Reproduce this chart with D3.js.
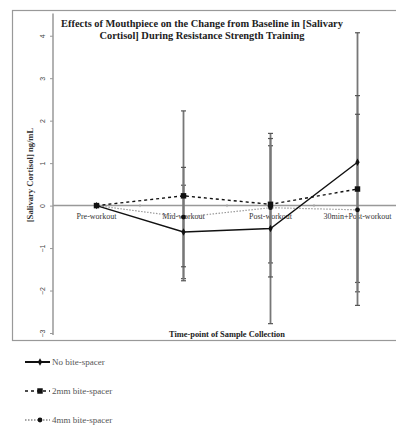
<!DOCTYPE html>
<html>
<head>
<meta charset="utf-8">
<script src="https://cdn.jsdelivr.net/npm/d3@7"></script>
<style>
  html, body { margin: 0; padding: 0; background: #fff; }
  svg { display: block; font-family: 'Liberation Serif', 'DejaVu Serif', serif; }
</style>
</head>
<body>
<svg id="chart" width="396" height="428"></svg>
<script>
const categories = ['Pre-workout', 'Mid-workout', 'Post-workout', '30min+Post-workout']
const yTicks = [-3, -2, -1, 0, 1, 2, 3, 4]

const noSpacer = [0, -0.62, -0.54, 1.02]
const noSpacerErr = [0, 1.1, 2.24, 3.05]
const spacer2mm = [0, 0.23, 0.03, 0.39]
const spacer2mmErr = [0, 2.0, 1.38, 2.2]
const spacer4mm = [0, -0.27, -0.05, -0.1]
const spacer4mmErr = [0, 1.17, 1.63, 2.25]

const seriesNames = ['No bite-spacer', '2mm bite-spacer', '4mm bite-spacer']

const series = [
  { name: seriesNames[0], values: noSpacer, err: noSpacerErr, dash: null, color: '#111', width: 1.4, marker: 'diamond', size: 16 },
  { name: seriesNames[1], values: spacer2mm, err: spacer2mmErr, dash: '3,3', color: '#111', width: 1.4, marker: 'square', size: 30 },
  { name: seriesNames[2], values: spacer4mm, err: spacer4mmErr, dash: '1.5,1.5', color: '#999', width: 1.2, marker: 'circle', size: 18 },
]

const svg = d3.select('#chart')

const plotLeft = 53
const plotTop = 14.5
const plotBottom = 333

const x = d3.scalePoint().domain(categories).range([plotLeft, 401]).padding(0.5)
const y = d3.scaleLinear().domain([-3, 4.5]).range([plotBottom, plotTop])

// chart frame
svg.append('rect')
  .attr('x', 12.5).attr('y', 10.5)
  .attr('width', 400).attr('height', 330)
  .attr('fill', 'none').attr('stroke', '#999').attr('stroke-width', 1.2)

// y axis
const yAxis = svg.append('g')
  .attr('transform', `translate(${plotLeft},0)`)
  .call(d3.axisLeft(y).tickValues(yTicks).tickSize(3).tickFormat(d3.format('d')))
yAxis.select('.domain').attr('stroke', '#999').attr('stroke-width', 1.5)
  .attr('d', `M0,${plotTop - 1}V${plotBottom + 2}`)
yAxis.selectAll('.tick line').attr('stroke', '#999')
yAxis.selectAll('.tick text')
  .attr('font-size', 7).attr('fill', '#444')
  .attr('x', 0).attr('dy', 0)
  .attr('text-anchor', 'middle')
  .attr('transform', 'translate(-8,0) rotate(-90)')

// zero line with category separators
const zeroY = y(0)
svg.append('line')
  .attr('x1', plotLeft).attr('x2', 396)
  .attr('y1', zeroY).attr('y2', zeroY)
  .attr('stroke', '#999').attr('stroke-width', 1.5)
const step = x.step()
categories.slice(1).forEach((c) => {
  svg.append('line')
    .attr('x1', x(c) - step / 2).attr('x2', x(c) - step / 2)
    .attr('y1', zeroY - 1.5).attr('y2', zeroY + 1.5)
    .attr('stroke', '#aaa')
})

// category labels
svg.append('g').selectAll('text')
  .data(categories).enter().append('text')
  .attr('x', (d) => x(d)).attr('y', zeroY + 13)
  .attr('text-anchor', 'middle')
  .attr('font-size', 8).attr('fill', '#333')
  .text((d) => d)

// error bars
series.forEach((s) => {
  const g = svg.append('g')
  s.values.forEach((v, i) => {
    if (!s.err[i]) return
    const cx = x(categories[i])
    g.append('line')
      .attr('x1', cx).attr('x2', cx)
      .attr('y1', y(v + s.err[i])).attr('y2', y(v - s.err[i]))
      .attr('stroke', '#777').attr('stroke-width', 1.8)
    ;[v + s.err[i], v - s.err[i]].forEach((e) => {
      g.append('line')
        .attr('x1', cx - 2.5).attr('x2', cx + 2.5)
        .attr('y1', y(e)).attr('y2', y(e))
        .attr('stroke', '#555').attr('stroke-width', 1.2)
    })
  })
})

const symbolType = { diamond: d3.symbolDiamond, square: d3.symbolSquare, circle: d3.symbolCircle }

// series lines and markers (4mm first so others sit on top)
const line = d3.line().x((d, i) => x(categories[i])).y((d) => y(d))
series.slice().reverse().forEach((s) => {
  svg.append('path')
    .datum(s.values)
    .attr('d', line)
    .attr('fill', 'none')
    .attr('stroke', s.color)
    .attr('stroke-width', s.width)
    .attr('stroke-dasharray', s.dash)
  svg.append('g').selectAll('path')
    .data(s.values).enter().append('path')
    .attr('transform', (d, i) => `translate(${x(categories[i])},${y(d)})`)
    .attr('d', d3.symbol(symbolType[s.marker], s.size))
    .attr('fill', '#111')
})

// titles
const title = svg.append('text')
  .attr('text-anchor', 'middle').attr('font-weight', 'bold')
  .attr('font-size', 10.4).attr('fill', '#222')
title.append('tspan').attr('x', 202).attr('y', 27).text('Effects of Mouthpiece on the Change from Baseline in [Salivary')
title.append('tspan').attr('x', 202).attr('y', 38.5).text('Cortisol] During Resistance Strength Training')

svg.append('text')
  .attr('transform', `translate(33,175) rotate(-90)`)
  .attr('text-anchor', 'middle').attr('font-weight', 'bold')
  .attr('font-size', 8.6).attr('fill', '#333')
  .text('[Salivary Cortisol] ng/mL')

svg.append('text')
  .attr('x', x.range()[0] + (x.range()[1] - x.range()[0]) / 2).attr('y', 337)
  .attr('text-anchor', 'middle').attr('font-weight', 'bold')
  .attr('font-size', 8.4).attr('fill', '#222')
  .text('Time-point of Sample Collection')

// legend
const legendY = [362, 391, 420]
series.forEach((s, i) => {
  const g = svg.append('g').attr('transform', `translate(0,${legendY[i]})`)
  g.append('line')
    .attr('x1', 25).attr('x2', 50)
    .attr('stroke', s.color === '#999' ? '#888' : '#111')
    .attr('stroke-width', i === 0 ? 2 : 1.6)
    .attr('stroke-dasharray', s.dash)
  g.append('path')
    .attr('transform', 'translate(40,0)')
    .attr('d', d3.symbol(symbolType[s.marker], s.size))
    .attr('fill', '#111')
  g.append('text')
    .attr('x', 52).attr('y', 3)
    .attr('font-size', 9).attr('fill', '#555')
    .text(s.name)
})
</script>
</body>
</html>
